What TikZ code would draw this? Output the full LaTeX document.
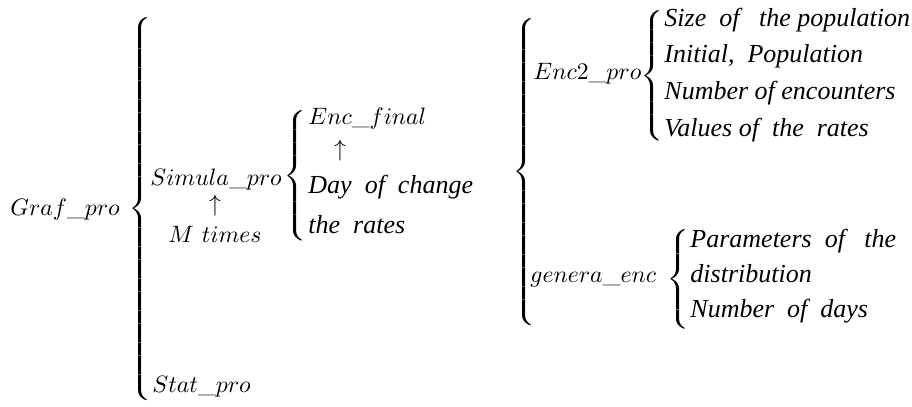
\documentclass[tikz,border=0pt]{standalone}
\usepackage{graphicx}
\usepackage{fontspec}
\newfontfamily\notefont{Liberation Serif}
% an extensible left brace, centred on the math axis, brought to an exact total height
\newcommand{\bracefor}[1]{\resizebox*{1.2\width}{#1}{$\delimiterfactor=1000\delimitershortfall=0pt
  \left\{\vcenter{\hbox{\vrule height #1 width 0pt}}\right.$}}
\tikzset{
  lbl/.style={inner sep=0pt, anchor=base west, font=\fontsize{10.95}{13}\selectfont},
  upsym/.style={inner sep=0pt, font=\fontsize{10.95}{13}\selectfont},
  item/.style={inner sep=0pt, anchor=base west, font=\fontsize{12}{14}\selectfont\notefont\itshape},
  brc/.style={inner sep=0pt, anchor=west, font=\fontsize{12}{14}\selectfont},
}
\begin{document}
\begin{tikzpicture}[x=0.4615pt, y=-0.4615pt]
\useasboundingbox (0,0) rectangle (912,407);

% top level
\node[lbl] (graf) at (10,215) {$Graf\_pro$};
\node[brc] (b1) at (128,209) {\bracefor{177pt}};

% simulation branch
\node[lbl] (simula) at (150,185) {$Simula\_pro$};
\node[upsym] (up1) at (215,206) {$\uparrow$};
\node[upsym, anchor=base] (mtimes) at (215,242) {$M\ times$};
\node[lbl] (stat) at (152,392) {$Stat\_pro$};

\node[brc] (b2) at (283,176) {\bracefor{60pt}};
\node[lbl] (encfinal) at (308,124) {$Enc\_final$};
\node[upsym] (up2) at (340,151) {$\uparrow$};
\node[item] (day) at (308,193) {Day\ \ of\ \ change};
\node[item] (rates) at (308,233) {the\ \ rates};

% encounter branch
\node[brc] (b3) at (512,172) {\bracefor{142pt}};
\node[lbl] (enc2) at (533,79) {$Enc2\_pro$};
\node[brc] (b4) at (640,76) {\bracefor{60pt}};
\node[item] (size) at (664,27) {Size\ \ of\ \ \ the population};
\node[item] (init) at (664,63) {Initial,\ \ Population};
\node[item] (nenc) at (664,99) {Number of encounters};
\node[item] (vals) at (664,136) {Values of\ \ the\ \ rates};

\node[lbl] (genera) at (530,282) {$genera\_enc$};
\node[brc] (b5) at (666,279) {\bracefor{46pt}};
\node[item] (param) at (690,247) {Parameters\ \ of\ \ \ the};
\node[item] (distr) at (690,282) {distribution};
\node[item] (ndays) at (690,317) {Number\ \ of\ \ days};
\end{tikzpicture}
\end{document}
